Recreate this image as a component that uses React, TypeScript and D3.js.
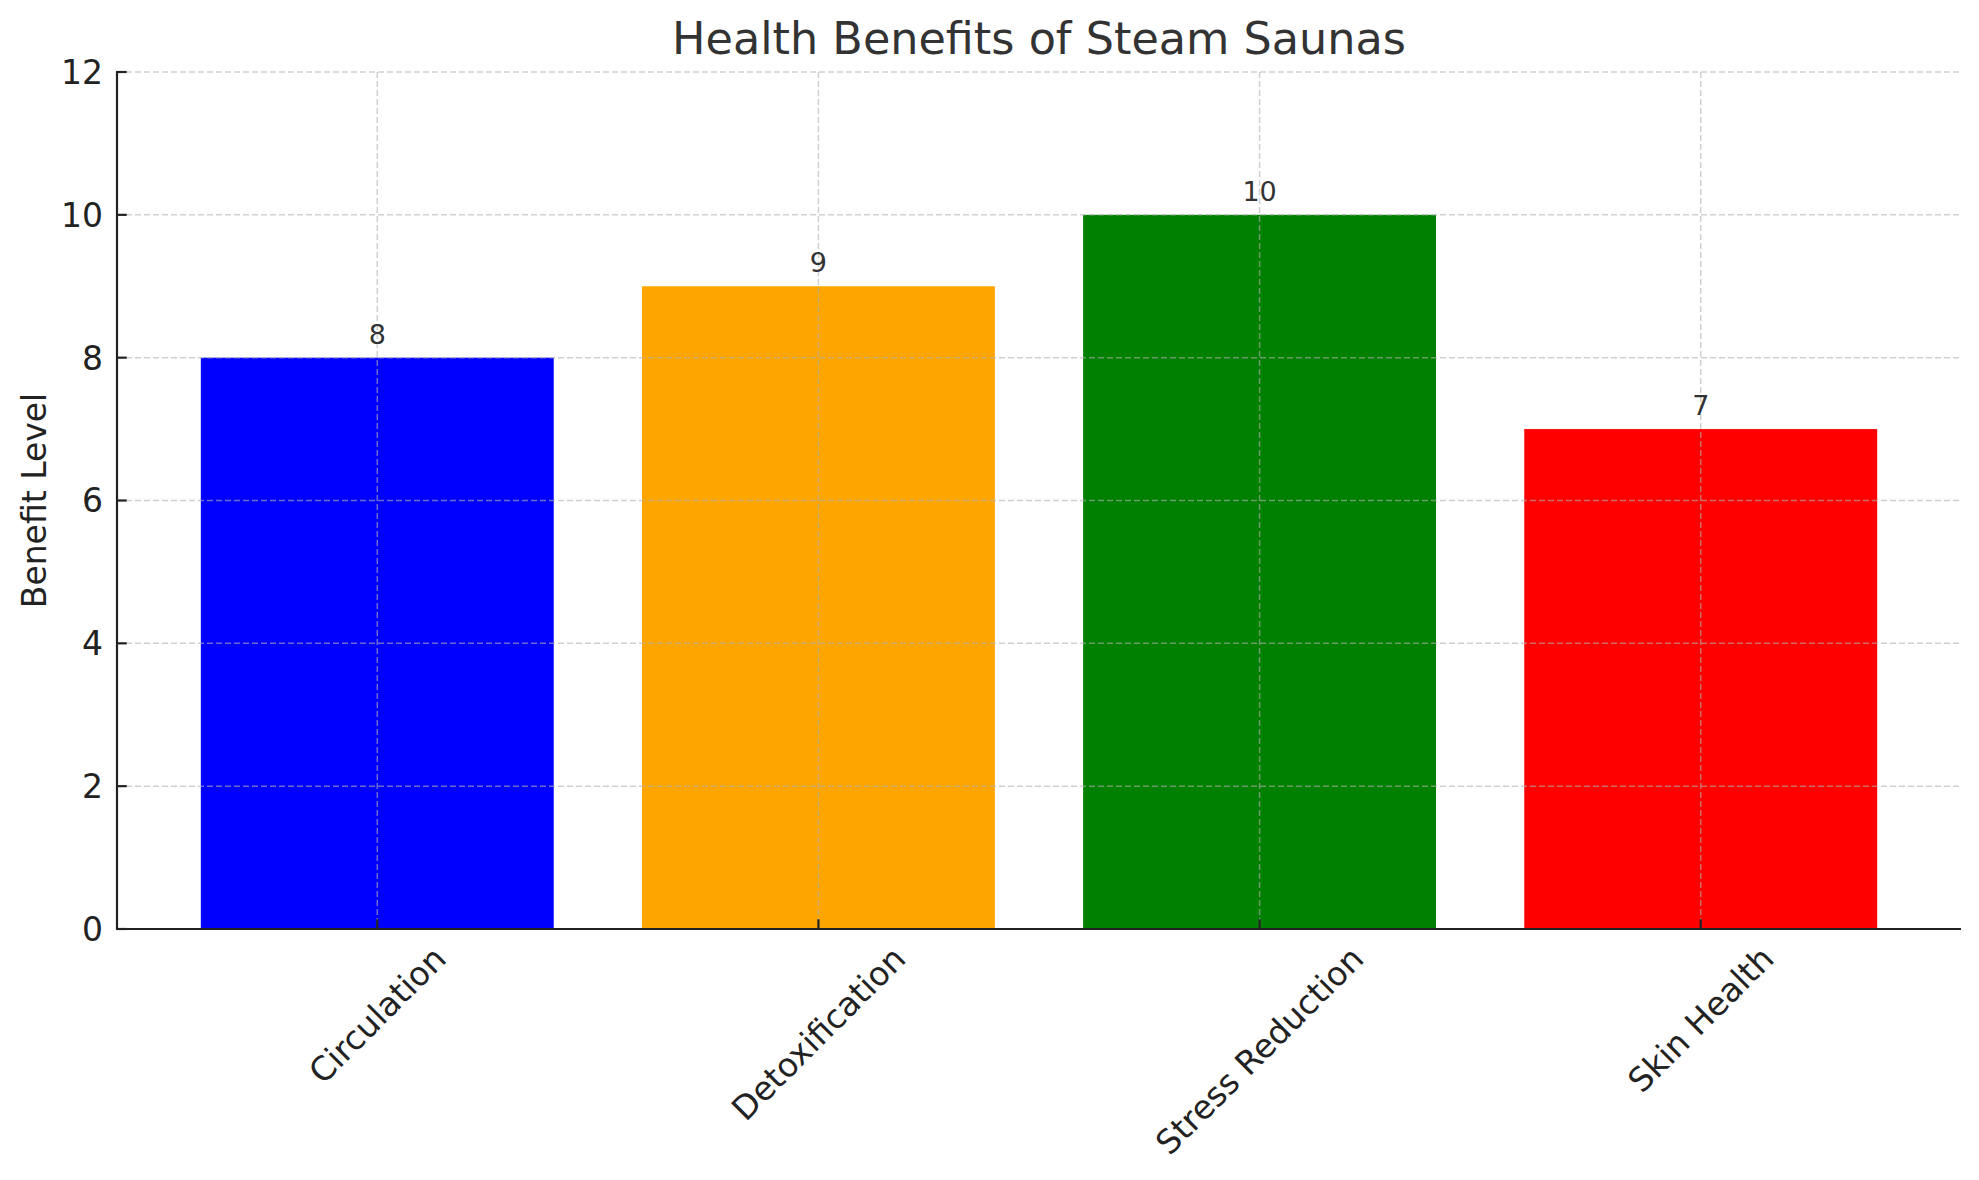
import React, { useEffect, useRef } from "react";
import * as d3 from "d3";

const categories = ["Circulation", "Detoxification", "Stress Reduction", "Skin Health"];
const values = [8, 9, 10, 7];
const colors = ["#0000ff", "#ffa500", "#008000", "#ff0000"];
const yTicks = [0, 2, 4, 6, 8, 10, 12];
const title = "Health Benefits of Steam Saunas";
const yLabel = "Benefit Level";

const W = 1979;
const H = 1180;
const M = { left: 117, right: 1961, top: 72, bottom: 929 };
const FONT = "DejaVu Sans, Verdana, sans-serif";

export default function App() {
  const ref = useRef<SVGSVGElement>(null);

  useEffect(() => {
    const svg = d3.select(ref.current);
    svg.selectAll("*").remove();

    const x = d3.scaleLinear().domain([-0.59, categories.length - 1 + 0.59]).range([M.left, M.right]);
    const y = d3.scaleLinear().domain([0, 12]).range([M.bottom, M.top]);
    const barW = x(0.8) - x(0);

    svg.append("rect").attr("width", W).attr("height", H).attr("fill", "#fff");

    // bars
    svg
      .selectAll("rect.bar")
      .data(values)
      .enter()
      .append("rect")
      .attr("class", "bar")
      .attr("x", (_, i) => x(i) - barW / 2)
      .attr("width", barW)
      .attr("y", (d) => y(d))
      .attr("height", (d) => y(0) - y(d))
      .attr("fill", (_, i) => colors[i]);

    // grid
    const grid = svg.append("g").attr("stroke", "#b0b0b0").attr("stroke-opacity", 0.6).attr("stroke-width", 1.5).attr("stroke-dasharray", "6,3");
    yTicks.forEach((t) => {
      grid.append("line").attr("x1", M.left).attr("x2", M.right).attr("y1", y(t)).attr("y2", y(t));
    });
    categories.forEach((_, i) => {
      grid.append("line").attr("x1", x(i)).attr("x2", x(i)).attr("y1", M.top).attr("y2", M.bottom);
    });

    // ticks (inward)
    const tk = svg.append("g").attr("stroke", "#222").attr("stroke-width", 2.2);
    yTicks.forEach((t) => {
      tk.append("line").attr("x1", M.left).attr("x2", M.left + 9.7).attr("y1", y(t)).attr("y2", y(t));
    });
    categories.forEach((_, i) => {
      tk.append("line").attr("x1", x(i)).attr("x2", x(i)).attr("y1", M.bottom).attr("y2", M.bottom - 9.7);
    });

    // spines
    svg.append("line").attr("x1", M.left).attr("x2", M.left).attr("y1", M.top - 1).attr("y2", M.bottom + 1).attr("stroke", "#222").attr("stroke-width", 2.2);
    svg.append("line").attr("x1", M.left - 1).attr("x2", M.right).attr("y1", M.bottom).attr("y2", M.bottom).attr("stroke", "#222").attr("stroke-width", 2.2);

    // y tick labels
    svg
      .selectAll("text.yt")
      .data(yTicks)
      .enter()
      .append("text")
      .attr("x", M.left - 14)
      .attr("y", (d) => y(d))
      .attr("dy", "0.36em")
      .attr("text-anchor", "end")
      .attr("font-family", FONT)
      .attr("font-size", 33)
      .attr("fill", "#222")
      .text((d) => String(d));

    // x tick labels rotated 45 with centered bbox
    categories.forEach((c, i) => {
      const t = svg
        .append("text")
        .attr("text-anchor", "middle")
        .attr("dy", "0.35em")
        .attr("font-family", FONT)
        .attr("font-size", 33)
        .attr("fill", "#222")
        .text(c);
      const w = (t.node() as SVGTextElement).getComputedTextLength();
      const bh = (w + 38) * Math.SQRT1_2;
      t.attr("transform", `translate(${x(i)},${M.bottom + 10 + bh / 2}) rotate(-45)`);
    });

    // bar value labels
    svg
      .selectAll("text.val")
      .data(values)
      .enter()
      .append("text")
      .attr("x", (_, i) => x(i))
      .attr("y", (d) => y(d) - 14)
      .attr("text-anchor", "middle")
      .attr("font-family", FONT)
      .attr("font-size", 27)
      .attr("fill", "#333")
      .text((d) => String(d));

    // title
    svg
      .append("text")
      .attr("x", (M.left + M.right) / 2)
      .attr("y", 54)
      .attr("text-anchor", "middle")
      .attr("font-family", FONT)
      .attr("font-size", 44.5)
      .attr("fill", "#333")
      .text(title);

    // y label
    svg
      .append("text")
      .attr("transform", `translate(34,${(M.top + M.bottom) / 2}) rotate(-90)`)
      .attr("text-anchor", "middle")
      .attr("dy", "0.35em")
      .attr("font-family", FONT)
      .attr("font-size", 33)
      .attr("fill", "#222")
      .text(yLabel);
  }, []);

  return (
    <svg ref={ref} width={W} height={H} style={{ display: "block", position: "absolute", left: 0, top: 0 }} />
  );
}
